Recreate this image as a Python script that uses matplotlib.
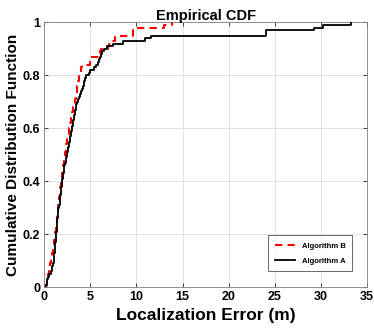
import numpy as np
import matplotlib
matplotlib.use("Agg")
import matplotlib.pyplot as plt

# Sorted error samples (m)
alg_a = [0.2, 0.25, 0.3, 0.35, 0.5,
         0.75,
         0.8, 0.85, 0.9, 1.0,
         1.05, 1.08, 1.1, 1.12, 1.15, 1.18, 1.2, 1.22, 1.25, 1.28,
         1.3, 1.33, 1.36, 1.38, 1.4, 1.42, 1.45, 1.48, 1.5, 1.53,
         1.6, 1.65, 1.7, 1.72, 1.75, 1.78, 1.8,
         1.85, 1.88, 1.9, 1.95, 2.0, 2.05, 2.1, 2.12, 2.15,
         2.25, 2.3,
         2.4, 2.45, 2.5, 2.55, 2.6, 2.65, 2.7, 2.75, 2.8,
         2.85, 2.9, 3.0,
         3.05, 3.1, 3.15, 3.2, 3.25, 3.3, 3.35, 3.4, 3.45, 3.5,
         3.7, 3.8,
         3.9, 4.0, 4.1, 4.2,
         4.3, 4.35, 4.4, 4.5,
         4.8, 5.0,
         5.4,
         5.6, 5.8, 5.9, 6.0,
         6.2, 6.3, 6.5,
         6.8, 7.4,
         8.5,
         10.9,
         11.6,
         24.1, 24.1,
         29.3,
         30.2,
         33.3]

alg_b = [0.2, 0.25, 0.3, 0.35, 0.4,
         0.5, 0.55, 0.6, 0.65, 0.7,
         0.75, 0.8, 0.85, 0.9, 0.95, 1.0, 1.05, 1.08, 1.12, 1.15,
         1.2, 1.25, 1.28, 1.3, 1.33, 1.36, 1.4, 1.43, 1.46, 1.5,
         1.53, 1.56, 1.6, 1.63, 1.66, 1.7, 1.72, 1.75, 1.78, 1.8,
         1.85, 1.9, 1.95, 2.0, 2.02, 2.05, 2.1, 2.12, 2.15, 2.2,
         2.25, 2.3, 2.35, 2.4, 2.45, 2.5, 2.55, 2.6, 2.65, 2.7,
         2.75, 2.8, 2.85, 2.9, 2.95, 3.0, 3.1, 3.15, 3.2, 3.3,
         3.35, 3.4, 3.45, 3.5, 3.55, 3.6, 3.65, 3.7, 3.75, 3.8,
         3.9, 3.95, 4.0, 4.1,
         4.95, 4.95, 5.0,
         6.0, 6.0, 6.1,
         6.9, 7.0, 7.2,
         7.7, 7.7,
         9.6, 9.6, 9.7,
         13.0,
         13.9]

x_ticks = [0, 5, 10, 15, 20, 25, 30, 35]
y_ticks = [0, 0.2, 0.4, 0.6, 0.8, 1]
y_ticklabels = ["0", "0.2", "0.4", "0.6", "0.8", "1"]


def ecdf_xy(samples):
    s = np.sort(np.asarray(samples, dtype=float))
    n = len(s)
    x = np.concatenate([[s[0]], s])
    y = np.concatenate([[0.0], np.arange(1, n + 1) / n])
    return x, y


plt.rcParams['font.family'] = ['Liberation Sans', 'DejaVu Sans']
plt.rcParams['font.weight'] = 'bold'

fig = plt.figure(figsize=(3.74, 3.31), dpi=100)
ax = fig.add_axes([0.1185, 0.132, 0.8625, 0.8006])

xb, yb = ecdf_xy(alg_b)
xa, ya = ecdf_xy(alg_a)
ax.step(xb, yb, where='post', color='#ff0000', linestyle=(0, (3.5, 2.5)),
        linewidth=1.5, label='Algorithm B', zorder=3)
ax.step(xa, ya, where='post', color='black', linewidth=1.3,
        label='Algorithm A', zorder=4)

ax.set_xlim(0, 35)
ax.set_ylim(0, 1)
ax.set_xticks(x_ticks)
ax.set_yticks(y_ticks)
ax.set_yticklabels(y_ticklabels)
ax.tick_params(direction='in', length=3, width=0.6, top=True, right=True,
               labelsize=9, color='#262626', pad=3)
for lab in ax.get_xticklabels() + ax.get_yticklabels():
    lab.set_fontweight('bold')
ax.grid(True, color='#dcdcdc', linewidth=0.6)
ax.set_axisbelow(True)
for sp in ax.spines.values():
    sp.set_color('#808080')
    sp.set_linewidth(0.6)

ax.set_title('Empirical CDF', fontsize=10.5, fontweight='bold', pad=2)
ax.set_xlabel('Localization Error (m)', fontsize=12.5, fontweight='bold', labelpad=3)
ax.set_ylabel('Cumulative Distribution Function', fontsize=11,
              fontweight='bold', labelpad=2)

leg = ax.legend(loc='lower right', bbox_to_anchor=(0.955, 0.06),
                fontsize=5.5, frameon=True, fancybox=False,
                edgecolor='#262626', handlelength=2.6, borderpad=0.9,
                labelspacing=1.0, handletextpad=0.9, borderaxespad=0)
leg.get_frame().set_linewidth(0.6)
for t in leg.get_texts():
    t.set_fontweight('bold')

fig.savefig('out.png', dpi=100)
